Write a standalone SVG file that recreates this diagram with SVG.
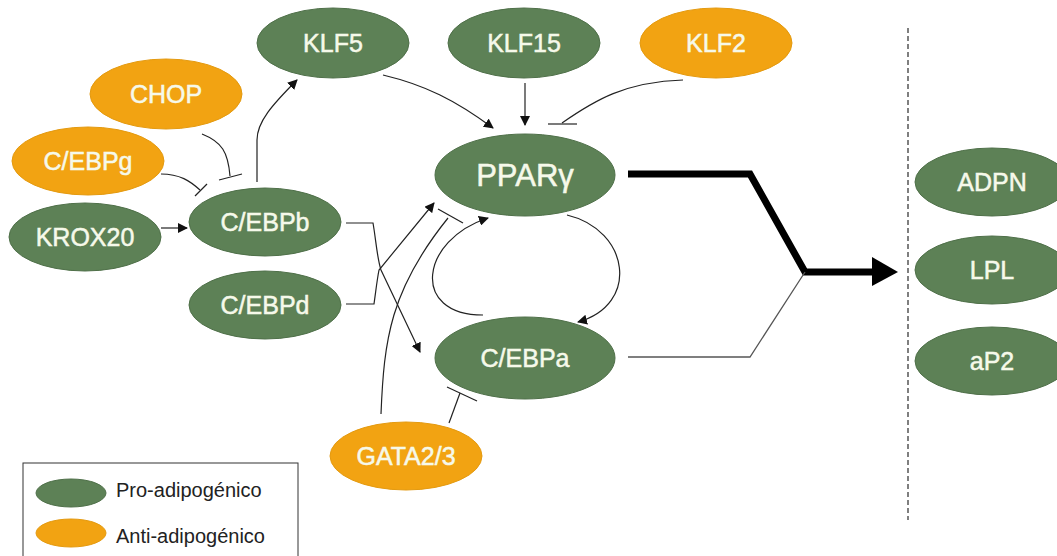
<svg xmlns="http://www.w3.org/2000/svg" width="1057" height="556" viewBox="0 0 1057 556">
<style>
.g{fill:#5d8156;stroke:#4f7049;stroke-width:1}
.o{fill:#f2a312;stroke:#e49a10;stroke-width:1}
.t{font-family:"Liberation Sans",Arial,sans-serif;font-size:25px;fill:#f6f9ea;stroke:#f6f9ea;stroke-width:0.5;text-anchor:middle}
.big{font-size:31px}
.e{fill:none;stroke:#222;stroke-width:1.2}
.lg{font-family:"Liberation Sans",Arial,sans-serif;font-size:20px;fill:#222}
</style>
<defs>
<marker id="arr" viewBox="0 0 10 10" refX="9" refY="5" markerWidth="10" markerHeight="10" markerUnits="userSpaceOnUse" orient="auto">
<path d="M0,0 L10,5 L0,10 z" fill="#111"/>
</marker>
</defs>
<rect width="1057" height="556" fill="#fff"/>
<g id="connectors">
<path class="e" d="M161,228 L187,228" marker-end="url(#arr)"/>
<path class="e" d="M161,174 C180,174 190,181 200,190"/>
<line class="e" x1="195" y1="196" x2="207" y2="184"/>
<path class="e" d="M202,134 C222,142 228,152 230,176"/>
<line class="e" x1="219" y1="180" x2="242" y2="174"/>
<path class="e" d="M257,182 L257,140 C257,122 272,105 297,80" marker-end="url(#arr)"/>
<path class="e" d="M383,75 C425,85 455,100 493,128" marker-end="url(#arr)"/>
<path class="e" d="M525,83 L525,125" marker-end="url(#arr)"/>
<path class="e" d="M683,80 C625,82 595,100 562,123"/>
<line class="e" x1="548" y1="124" x2="577" y2="124"/>
<path class="e" d="M346,223 L373,223 C376,240 377,258 381,270 L420,352" marker-end="url(#arr)"/>
<path class="e" d="M346,304 L374,304 C376,290 377,280 379,270 L434,203" marker-end="url(#arr)"/>
<path class="e" d="M381,414 C384,340 390,290 448,218"/>
<line class="e" x1="438" y1="209" x2="463" y2="223"/>
<path class="e" d="M449,423 L460,393"/>
<line class="e" x1="447" y1="387" x2="477" y2="401"/>
<path class="e" d="M567,215 C630,230 640,305 578,322" marker-end="url(#arr)"/>
<path class="e" d="M483,315 C410,315 420,240 488,218" marker-end="url(#arr)"/>
<path d="M628,174 L750,174 L805,272 L875,272" fill="none" stroke="#000" stroke-width="7" stroke-linejoin="miter"/>
<polygon points="872,257 898,272 872,286" fill="#000"/>
<path d="M628,357 L750,357 L805,272" fill="none" stroke="#555" stroke-width="1.3"/>
<line x1="908" y1="28" x2="908" y2="520" stroke="#555" stroke-width="1.5" stroke-dasharray="5 3"/>
</g>
<g id="KLF5"><ellipse class="g" cx="333" cy="43" rx="76" ry="35"/><text class="t" x="333" y="52">KLF5</text></g>
<g id="KLF15"><ellipse class="g" cx="524" cy="43" rx="76" ry="35"/><text class="t" x="524" y="52">KLF15</text></g>
<g id="KLF2"><ellipse class="o" cx="716" cy="43" rx="76" ry="35"/><text class="t" x="716" y="52">KLF2</text></g>
<g id="CHOP"><ellipse class="o" cx="166" cy="94" rx="76" ry="35"/><text class="t" x="166" y="103">CHOP</text></g>
<g id="CEBPg"><ellipse class="o" cx="88" cy="161" rx="76" ry="34"/><text class="t" x="88" y="170">C/EBPg</text></g>
<g id="KROX20"><ellipse class="g" cx="85" cy="237" rx="76" ry="34"/><text class="t" x="85" y="246">KROX20</text></g>
<g id="CEBPb"><ellipse class="g" cx="265" cy="222" rx="76" ry="34"/><text class="t" x="265" y="231">C/EBPb</text></g>
<g id="CEBPd"><ellipse class="g" cx="265" cy="305" rx="76" ry="34"/><text class="t" x="265" y="314">C/EBPd</text></g>
<g id="PPARg"><ellipse class="g" cx="525" cy="175" rx="90" ry="41"/><text class="t big" x="525" y="186">PPARγ</text></g>
<g id="CEBPa"><ellipse class="g" cx="525" cy="358" rx="90" ry="41"/><text class="t" x="525" y="367">C/EBPa</text></g>
<g id="GATA23"><ellipse class="o" cx="406" cy="456" rx="76" ry="34"/><text class="t" x="406" y="465">GATA2/3</text></g>
<g id="ADPN"><ellipse class="g" cx="992" cy="182" rx="77" ry="34"/><text class="t" x="992" y="191">ADPN</text></g>
<g id="LPL"><ellipse class="g" cx="992" cy="270" rx="77" ry="34"/><text class="t" x="992" y="279">LPL</text></g>
<g id="aP2"><ellipse class="g" cx="992" cy="361" rx="77" ry="34"/><text class="t" x="992" y="370">aP2</text></g>
<g id="legend">
<rect x="23" y="463" width="275" height="110" fill="#fff" stroke="#333" stroke-width="1"/>
<ellipse class="g" cx="71" cy="493" rx="35" ry="14"/>
<text class="lg" x="116" y="497">Pro-adipogénico</text>
<ellipse class="o" cx="71" cy="533" rx="35" ry="14"/>
<text class="lg" x="116" y="543">Anti-adipogénico</text>
</g>
</svg>
